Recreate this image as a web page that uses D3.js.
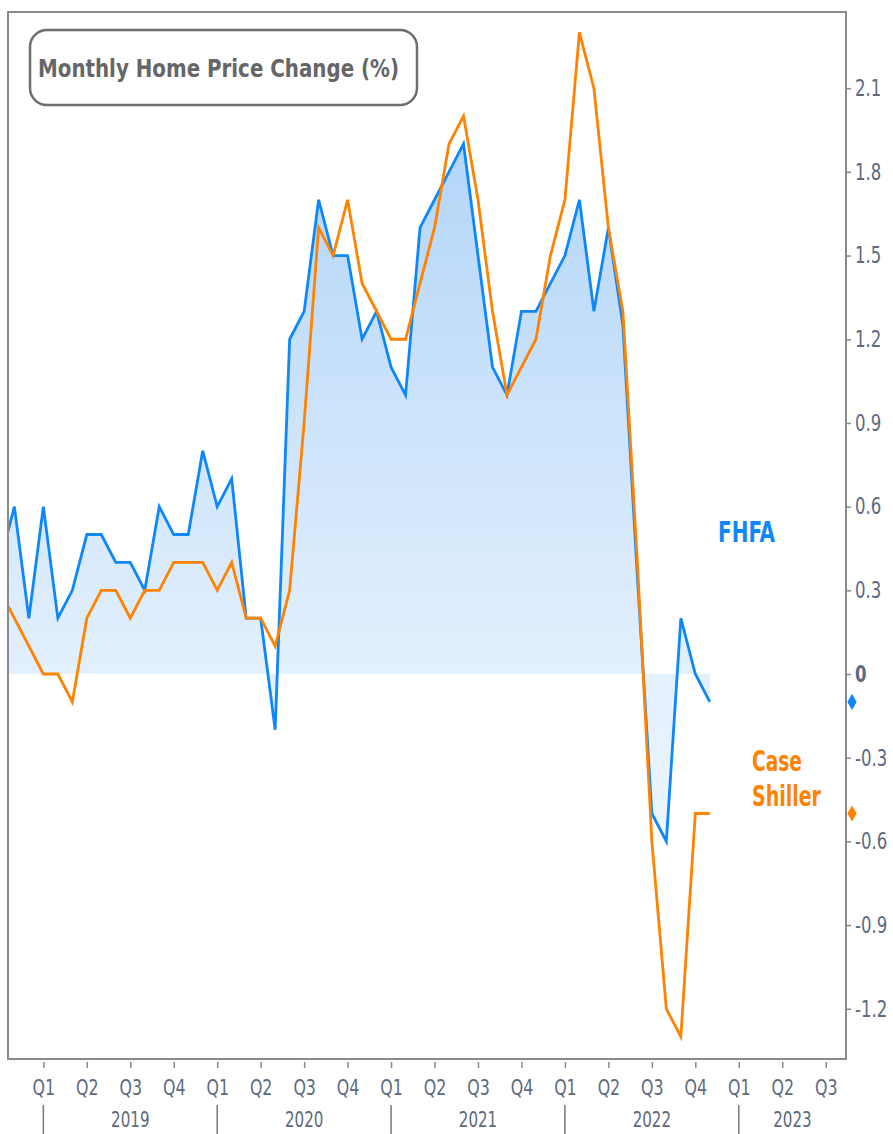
<!DOCTYPE html>
<html><head><meta charset="utf-8">
<script src="https://cdn.jsdelivr.net/npm/d3@7"></script>
<style>body{margin:0;background:#fff}svg{display:block}</style>
</head><body><svg id="c" width="893" height="1134"></svg>
<script>
// ---- data ----
const months = [
  "2018-10","2018-11","2018-12",
  "2019-01","2019-02","2019-03","2019-04","2019-05","2019-06","2019-07","2019-08","2019-09","2019-10","2019-11","2019-12",
  "2020-01","2020-02","2020-03","2020-04","2020-05","2020-06","2020-07","2020-08","2020-09","2020-10","2020-11","2020-12",
  "2021-01","2021-02","2021-03","2021-04","2021-05","2021-06","2021-07","2021-08","2021-09","2021-10","2021-11","2021-12",
  "2022-01","2022-02","2022-03","2022-04","2022-05","2022-06","2022-07","2022-08","2022-09","2022-10","2022-11"
];
const fhfa = [
  0.4, 0.6, 0.2,
  0.6, 0.2, 0.3, 0.5, 0.5, 0.4, 0.4, 0.3, 0.6, 0.5, 0.5, 0.8,
  0.6, 0.7, 0.2, 0.2, -0.2, 1.2, 1.3, 1.7, 1.5, 1.5, 1.2, 1.3,
  1.1, 1.0, 1.6, 1.7, 1.8, 1.9, 1.5, 1.1, 1.0, 1.3, 1.3, 1.4,
  1.5, 1.7, 1.3, 1.6, 1.25, 0.35, -0.5, -0.6, 0.2, 0.0, -0.1
];
const caseShiller = [
  0.3, 0.2, 0.1,
  0.0, 0.0, -0.1, 0.2, 0.3, 0.3, 0.2, 0.3, 0.3, 0.4, 0.4, 0.4,
  0.3, 0.4, 0.2, 0.2, 0.1, 0.3, 0.9, 1.6, 1.5, 1.7, 1.4, 1.3,
  1.2, 1.2, 1.4, 1.6, 1.9, 2.0, 1.7, 1.3, 1.0, 1.1, 1.2, 1.5,
  1.7, 2.3, 2.1, 1.6, 1.3, 0.4, -0.6, -1.2, -1.3, -0.5, -0.5
];
const yTicks = [2.1, 1.8, 1.5, 1.2, 0.9, 0.6, 0.3, 0, -0.3, -0.6, -0.9, -1.2];
const quarterLabels = ["Q1", "Q2", "Q3", "Q4"];
const years = ["2019", "2020", "2021", "2022", "2023"];
const seriesNames = ["FHFA", "Case", "Shiller"];
const titleText = "Monthly Home Price Change (%)";

// ---- layout ----
const plot = {left: 8, top: 12, right: 846, bottom: 1059};
const narrow = "'Liberation Sans Narrow','DejaVu Sans Condensed','Arial Narrow',sans-serif";
const blue = "#0e87fb", orange = "#ff8200", axisText = "#5d6a7e";
const K = 0.8; // horizontal squeeze for axis text

const mIndex = s => { const [yy, mm] = s.split("-").map(Number); return (yy - 2019) * 12 + (mm - 1); };
const x = d3.scaleLinear().domain([-2.44, 55.4]).range([plot.left, plot.right]);
const y = d3.scaleLinear().domain([-1.38, 2.373]).range([plot.bottom, plot.top]);

const svg = d3.select("#c");
const defs = svg.append("defs");
defs.append("clipPath").attr("id", "clip").append("rect")
  .attr("x", plot.left).attr("y", plot.top)
  .attr("width", plot.right - plot.left).attr("height", plot.bottom - plot.top);
const grad = defs.append("linearGradient").attr("id", "g")
  .attr("gradientUnits", "userSpaceOnUse")
  .attr("x1", 0).attr("x2", 0).attr("y1", plot.top).attr("y2", plot.bottom);
grad.append("stop").attr("offset", 0).attr("stop-color", "#a8cff7");
grad.append("stop").attr("offset", 0.63).attr("stop-color", "#e3f0fd");
grad.append("stop").attr("offset", 1).attr("stop-color", "#f7fbff");

const fData = months.map((m, i) => ({i: mIndex(m), v: fhfa[i]}));
const cData = months.map((m, i) => ({i: mIndex(m), v: caseShiller[i]}));

const g = svg.append("g").attr("clip-path", "url(#clip)");
g.append("path").datum(fData)
  .attr("fill", "url(#g)")
  .attr("d", d3.area().x(d => x(d.i)).y0(y(0)).y1(d => y(d.v)));
const line = d3.line().x(d => x(d.i)).y(d => y(d.v));
g.append("path").datum(fData).attr("fill", "none").attr("stroke", blue)
  .attr("stroke-width", 2.8).attr("stroke-linejoin", "miter").attr("d", line);
g.append("path").datum(cData).attr("fill", "none").attr("stroke", orange)
  .attr("stroke-width", 2.8).attr("stroke-linejoin", "miter").attr("d", line);

// plot border
svg.append("rect").attr("x", plot.left).attr("y", plot.top)
  .attr("width", plot.right - plot.left).attr("height", plot.bottom - plot.top)
  .attr("fill", "none").attr("stroke", "#8a8a8a").attr("stroke-width", 2);

// right axis
const ya = svg.append("g").attr("transform", `translate(${plot.right},0)`)
  .call(d3.axisRight(y).tickValues(yTicks).tickSize(5).tickPadding(4)
    .tickFormat(d => d === 0 ? "0" : d.toFixed(1)));
ya.select(".domain").remove();
ya.selectAll(".tick line").attr("stroke", "#888").attr("stroke-width", 1.5);
ya.selectAll(".tick text").attr("font-family", narrow).attr("font-size", 23)
  .attr("x", 9 / K).attr("transform", `scale(${K},1)`)
  .attr("fill", axisText).attr("font-weight", d => d === 0 ? "bold" : "normal");

// end-value diamonds
const lastF = fhfa[fhfa.length - 1], lastC = caseShiller[caseShiller.length - 1];
svg.append("path").attr("d", d3.symbol(d3.symbolDiamond, 75)())
  .attr("transform", `translate(852,${y(lastF)})`).attr("fill", blue);
svg.append("path").attr("d", d3.symbol(d3.symbolDiamond, 75)())
  .attr("transform", `translate(852,${y(lastC)})`).attr("fill", orange);

// bottom axis: quarters
const qTicks = [];
years.forEach((yr, yi) => quarterLabels.forEach((q, qi) => {
  const idx = yi * 12 + qi * 3;
  if (idx <= x.domain()[1]) qTicks.push(idx);
}));
const xa = svg.append("g").attr("transform", `translate(0,1062)`)
  .call(d3.axisBottom(x).tickValues(qTicks).tickSize(6).tickPadding(11)
    .tickFormat(i => quarterLabels[(i % 12) / 3]));
xa.select(".domain").remove();
xa.selectAll(".tick line").attr("stroke", "#888").attr("stroke-width", 1.5);
xa.selectAll(".tick text").attr("font-family", narrow).attr("font-size", 22)
  .attr("transform", `scale(${K},1)`).attr("fill", axisText);

// year separators and labels
years.forEach((yr, yi) => {
  const s = yi * 12, e = s + 12;
  svg.append("line").attr("x1", x(s)).attr("x2", x(s)).attr("y1", 1105).attr("y2", 1134)
    .attr("stroke", "#777").attr("stroke-width", 1.5);
  const a = Math.max(x(s), plot.left), b = Math.min(x(e), plot.right);
  svg.append("g").attr("transform", `translate(${(a + b) / 2},1127)`)
    .append("text").attr("text-anchor", "middle").attr("transform", `scale(${K},1)`)
    .attr("font-family", narrow).attr("font-size", 21).attr("fill", axisText).text(yr);
});

// title box
svg.append("rect").attr("x", 30).attr("y", 30).attr("width", 387).attr("height", 75)
  .attr("rx", 17).attr("fill", "#fff").attr("stroke", "#6e6e6e").attr("stroke-width", 2.5);
svg.append("text").attr("x", 38).attr("y", 77).attr("font-family", narrow)
  .attr("font-weight", "bold").attr("font-size", 25).attr("fill", "#666")
  .attr("textLength", 361).attr("lengthAdjust", "spacingAndGlyphs").text(titleText);

// series labels
svg.append("text").attr("x", 718).attr("y", 542).attr("font-family", narrow)
  .attr("font-weight", "bold").attr("font-size", 29).attr("fill", blue)
  .attr("textLength", 57).attr("lengthAdjust", "spacingAndGlyphs").text(seriesNames[0]);
svg.append("text").attr("x", 752).attr("y", 771).attr("font-family", narrow)
  .attr("font-weight", "bold").attr("font-size", 29).attr("fill", orange)
  .attr("textLength", 50).attr("lengthAdjust", "spacingAndGlyphs").text(seriesNames[1]);
svg.append("text").attr("x", 752).attr("y", 806).attr("font-family", narrow)
  .attr("font-weight", "bold").attr("font-size", 29).attr("fill", orange)
  .attr("textLength", 69).attr("lengthAdjust", "spacingAndGlyphs").text(seriesNames[2]);
</script>
</body></html>
